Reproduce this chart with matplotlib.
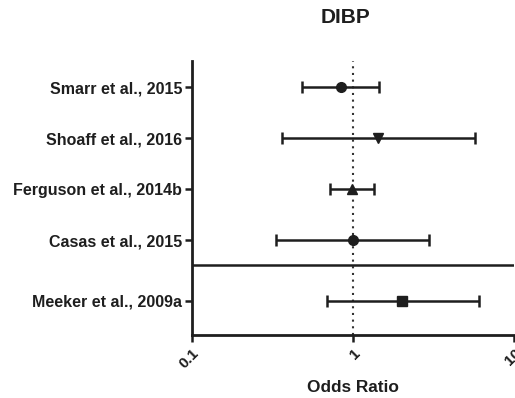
import matplotlib.pyplot as plt
import numpy as np

plt.rcParams['font.family'] = ['Liberation Sans', 'DejaVu Sans']

studies = ['Smarr et al., 2015', 'Shoaff et al., 2016', 'Ferguson et al., 2014b',
           'Casas et al., 2015', 'Meeker et al., 2009a']
odds = np.array([0.835, 1.42, 0.98, 1.0, 2.0])
lower = np.array([0.48, 0.36, 0.72, 0.33, 0.69])
upper = np.array([1.45, 5.68, 1.35, 2.97, 6.03])
markers = ['o', 'v', '^', 'o', 's']
ypos = [5, 4, 3, 2, 0.81]

ink = '#1e1e1e'
fig = plt.figure(figsize=(5.15, 3.98), dpi=100)
ax = fig.add_axes([0.3728, 0.159, 0.626, 0.6885])

ax.axvline(1, color='#333333', lw=1.5, ls=(0, (1, 2.2)), zorder=1)
ax.axhline(1.51, color=ink, lw=1.8, zorder=1)

for y, m, lo, hi, mk in zip(ypos, odds, lower, upper, markers):
    ax.errorbar(m, y, xerr=[[m - lo], [hi - m]], fmt=mk, color=ink, ms=7,
                elinewidth=1.8, capsize=4, capthick=1.8, zorder=3)

ax.set_xscale('log')
ax.set_xlim(0.1, 10)
ax.set_ylim(0.143, 5.516)
ax.set_xticks([0.1, 1, 10])
ax.set_xticklabels(['0.1', '1', '10'])
ax.minorticks_off()
ax.set_yticks(ypos)
ax.set_yticklabels(studies)

for s in ['top', 'right']:
    ax.spines[s].set_visible(False)
for s in ['left', 'bottom']:
    ax.spines[s].set_linewidth(2)
    ax.spines[s].set_color(ink)
ax.tick_params(axis='both', width=1.8, length=5, color=ink, labelcolor=ink)
ax.tick_params(axis='y', labelsize=11.5, pad=2)
ax.tick_params(axis='x', labelsize=11, pad=3)
plt.setp(ax.get_yticklabels(), fontweight='bold')
plt.setp(ax.get_xticklabels(), rotation=45, ha='right', rotation_mode='anchor', fontweight='bold')

ax.set_xlabel('Odds Ratio', fontsize=12.4, fontweight='bold', color=ink)
ax.xaxis.set_label_coords(0.5, -0.165)
fig.text(0.670, 0.955, 'DIBP', fontsize=15, fontweight='bold', color=ink, ha='center', va='center')

fig.savefig('out.png', dpi=100)
